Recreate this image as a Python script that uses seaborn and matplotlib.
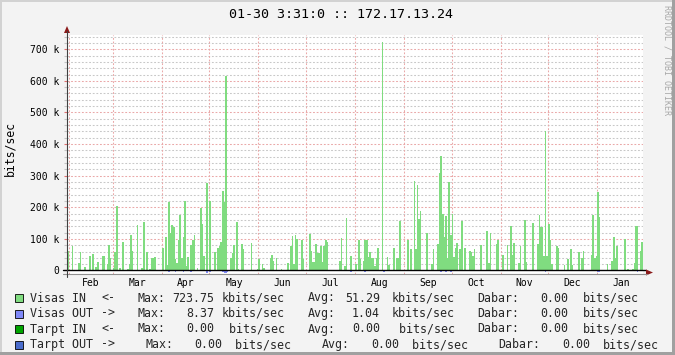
import numpy as np
import pandas as pd
import matplotlib
matplotlib.use("Agg")
import matplotlib.pyplot as plt
import seaborn as sns
from matplotlib.patches import Rectangle, Polygon
from matplotlib.lines import Line2D

# ---------------- data ----------------
start_date = "2007-01-31"
title = "01-30 3:31:0 :: 172.17.13.24"

in_days = [0, 3, 7, 8, 11, 14, 16, 18, 19, 20, 22, 23, 25, 26, 27, 29, 30, 31, 33, 35, 38, 39, 40, 41, 44, 47, 48, 50,
           52, 53, 54, 55, 60, 62, 63, 64, 65, 66, 67, 68, 69, 70, 71, 72, 73, 74, 75, 76, 78, 79, 80, 82, 84, 85, 86,
           88, 90, 93, 95, 96, 97, 98, 99, 100, 103, 104, 105, 107, 108, 110, 111, 116, 120, 121, 123, 124, 128, 129,
           130, 132, 135, 139, 141, 142, 143, 144, 145, 148, 149, 153, 154, 155, 156, 157, 158, 159, 160, 161, 162,
           163, 164, 172, 173, 175, 176, 179, 181, 182, 184, 185, 187, 188, 189, 190, 191, 192, 193, 194, 195, 196,
           199, 202, 203, 206, 208, 209, 210, 215, 217, 219, 220, 221, 222, 223, 224, 227, 230, 231, 234, 235, 236,
           237, 238, 239, 240, 241, 242, 243, 244, 245, 246, 248, 249, 250, 251, 254, 255, 256, 257, 261, 265, 266,
           267, 271, 272, 275, 278, 280, 281, 282, 285, 286, 289, 290, 294, 297, 298, 299, 300, 301, 302, 303, 304,
           305, 306, 309, 310, 314, 316, 318, 319, 323, 325, 326, 331, 332, 333, 334, 335, 336, 341, 344, 345, 346,
           347, 350, 352, 354, 357, 358, 359, 360, 362, 363]
in_kbps = [63, 77, 25, 57, 12, 45, 52, 10, 28, 3, 47, 45, 22, 82, 39, 7, 58, 205, 7, 91, 5, 22, 111, 63, 145, 7, 155, 60,
           5, 41, 41, 44, 70, 107, 18, 218, 120, 145, 137, 35, 25, 98, 176, 39, 107, 220, 14, 44, 82, 98, 113, 8, 198,
           148, 47, 277, 220, 60, 72, 79, 91, 252, 218, 614, 40, 56, 81, 155, 5, 84, 68, 88, 5, 35, 21, 9, 41, 50,
           31, 38, 4, 25, 78, 110, 20, 113, 101, 98, 35, 117, 63, 28, 28, 85, 54, 54, 79, 28, 77,
           96, 91, 31, 104, 13, 167, 47, 3, 20, 95, 35, 31, 98, 98, 44, 57, 41, 41, 15, 41, 72,
           724, 44, 18, 72, 39, 39, 158, 98, 68, 284, 68, 271, 164, 187, 3, 118, 22, 68, 85, 309, 362,
           180, 107, 173, 38, 280, 113, 178, 44, 72, 88, 68, 158, 3, 72, 62, 58, 47, 68, 82, 126, 25,
           120, 84, 95, 50, 82, 142, 50, 88, 25, 78, 161, 28, 151, 85, 176, 139, 139, 47, 441, 47, 148,
           95, 22, 77, 72, 16, 35, 68, 16, 60, 41, 63, 50, 176, 39, 47, 249, 170, 22, 31, 107, 40,
           77, 3, 101, 4, 5, 25, 142, 142, 63, 91]

out_days = [0, 8, 29, 43, 48, 64, 68, 73, 78, 88, 90, 98, 99, 100, 101, 107, 120, 145, 177, 179, 188, 200, 222, 223,
            236, 239, 242, 279, 282, 286, 302, 320, 335, 336, 360]
out_kbps = [3, 3, 3, 3, 3, 4, 4, 4, 4, 7, 5, 5, 8.4, 8, 5, 3, 3, 3, 3, 4, 4, 4, 3, 3,
            4, 4, 4, 3, 3, 3, 4, 3, 5, 5, 4]

month_names = ["Feb", "Mar", "Apr", "May", "Jun", "Jul", "Aug", "Sep", "Oct", "Nov", "Dec", "Jan"]
ytick_values = [0, 100, 200, 300, 400, 500, 600, 700]
ytick_labels = ["0", "100 k", "200 k", "300 k", "400 k", "500 k", "600 k", "700 k"]

legend_names = ["Visas IN", "Visas OUT", "Tarpt IN", "Tarpt OUT"]
legend_arrows = ["<-", "->", "<-", "->"]
legend_colors = ["#80dc80", "#7f88f8", "#00a400", "#4a6ccc"]
legend_max = ["723.75", "8.37", "0.00", "0.00"]
legend_max_unit = ["kbits/sec", "kbits/sec", "bits/sec", "bits/sec"]
legend_avg = ["51.29", "1.04", "0.00", "0.00"]
legend_avg_unit = ["kbits/sec", "kbits/sec", "bits/sec", "bits/sec"]
legend_cur = ["0.00", "0.00", "0.00", "0.00"]

# ---------------- styling ----------------
sns.set_theme(style="white")
plt.rcParams['font.family'] = ['DejaVu Sans Mono']
plt.rcParams['lines.scale_dashes'] = False

W, H = 675, 355
fig = plt.figure(figsize=(W / 100, H / 100), dpi=100, facecolor="#f3f3f3")

def fx(x):
    return x / W

def fy(y):
    return 1 - y / H

# plot area (pixels): x 67..643, y 35..273.5
L, R, T, B = 67, 643, 35, 273.5
ax = fig.add_axes([fx(L), fy(B), (R - L) / W, (B - T) / H])
ax.set_facecolor("white")

start = pd.Timestamp(start_date)
df_in = pd.DataFrame({"day": np.array(in_days) + 0.5, "kbps": in_kbps})
df_out = pd.DataFrame({"day": np.array(out_days) + 0.5, "kbps": -np.array(out_kbps)})

sns.barplot(data=df_in, x="day", y="kbps", native_scale=True, width=1.0, color="#80dc80",
            saturation=1, errorbar=None, linewidth=0, edgecolor="#80dc80", ax=ax, zorder=3)
sns.barplot(data=df_out, x="day", y="kbps", native_scale=True, width=1.0, color="#7f88f8",
            saturation=1, errorbar=None, linewidth=0, edgecolor="#7f88f8", ax=ax, zorder=3)

ax.set_xlim(0, 364)
ax.set_ylim(-9.5, 745)
ax.set_xlabel("")
ax.set_ylabel("")
for s in ax.spines.values():
    s.set_visible(False)

# horizontal grid
ax.set_yticks(ytick_values)
ax.set_yticklabels(ytick_labels)
ax.set_yticks(np.arange(20, 745, 20), minor=True)
ax.grid(False)
for v in np.arange(20, 745, 20):
    if v % 100 != 0:
        ax.axhline(v, color="#c8c8c8", lw=0.75, ls=(0, (1.3, 1.3)), zorder=1)
for v in ytick_values[1:]:
    ax.axhline(v, color="#eaa8a8", lw=0.75, ls=(0, (1.3, 1.3)), zorder=1)

# month boundaries / labels
month_starts = pd.date_range("2007-02-01", periods=12, freq="MS")
month_offsets = [(d - start).days for d in month_starts]
month_centers = [(d - start).days + d.days_in_month / 2 for d in month_starts]
for m in month_offsets:
    ax.axvline(m, color="#eaa8a8", lw=0.75, ls=(0, (1.3, 1.3)), zorder=1)
ax.set_xticks(month_offsets)
ax.set_xticklabels([""] * len(month_offsets))
ax.set_xticks(month_centers, minor=True)
ax.set_xticklabels(month_names, minor=True)
ax.tick_params(axis="x", which="major", length=2.2, width=0.8, color="#e07070", direction="out")
ax.tick_params(axis="x", which="minor", length=0, pad=3.6, labelsize=7, labelcolor="black")
ax.tick_params(axis="y", which="major", length=2.5, width=0.8, color="#e07070", pad=2.8,
               labelsize=7, labelcolor="black", left=True)
ax.tick_params(axis="y", which="minor", length=2.5, width=0.8, color="#c4c4c4", left=True)

# zero line
ax.plot([-0.007, 1.006], [0, 0], transform=ax.get_yaxis_transform(), color="black",
        lw=1.0, clip_on=False, zorder=5)

# axes lines & arrows (decorations in pixel coordinates)
fig.add_artist(Line2D([fx(63), fx(647)], [fy(273.5), fy(273.5)], color="#909090", lw=0.8))
fig.add_artist(Line2D([fx(67), fx(67)], [fy(277), fy(31)], color="#404040", lw=0.8))
fig.add_artist(Polygon([[fx(64), fy(33)], [fx(70), fy(33)], [fx(67), fy(26)]], closed=True,
                       color="#8b1a1a", lw=0))
fig.add_artist(Polygon([[fx(646), fy(269.5)], [fx(646), fy(275.5)], [fx(653), fy(272.5)]], closed=True,
                       color="#8b1a1a", lw=0))

# border shading
fig.add_artist(Rectangle((0, fy(2)), 1, fy(0) - fy(2), transform=fig.transFigure, color="#d2d2d2", lw=0))
fig.add_artist(Rectangle((0, 0), fx(2), 1, transform=fig.transFigure, color="#d2d2d2", lw=0))
fig.add_artist(Rectangle((0, 0), 1, fy(352) - fy(355), transform=fig.transFigure, color="#a0a0a0", lw=0))
fig.add_artist(Rectangle((fx(672), 0), fx(3), 1, transform=fig.transFigure, color="#a0a0a0", lw=0))

# texts
fig.text(fx(341), fy(14), title, ha="center", va="center", fontsize=9.6, color="black")
fig.text(fx(10), fy(148), "bits/sec", rotation=90, ha="center", va="center", fontsize=8.3, color="black")
fig.text(fx(667), fy(60), "RRDTOOL / TOBI OETIKER", rotation=270, ha="center", va="center",
         fontsize=6, color="#a8a8a8")

# legend
row_y = [298, 313.5, 329, 344.5]
fs = 8.4
for i in range(4):
    y = fy(row_y[i])
    sq = 8
    fig.add_artist(Rectangle((fx(15), fy(row_y[i] + sq / 2)), fx(sq), fy(0) - fy(sq),
                             transform=fig.transFigure, facecolor=legend_colors[i],
                             edgecolor="black", lw=0.6))
    fig.text(fx(30), y, legend_names[i], ha="left", va="center", fontsize=fs)
    fig.text(fx(101), y, legend_arrows[i], ha="left", va="center", fontsize=fs)
    if i < 3:
        xs = dict(maxl=138, maxv=214.5, maxu=222, avgl=308, avgv=380, avgu=392,
                  dabl=477, cur=568.5, curu=583)
    else:
        xs = dict(maxl=145, maxv=222, maxu=228, avgl=322, avgv=399, avgu=405,
                  dabl=498, cur=590, curu=603)
    mu = legend_max_unit[i] if legend_max_unit[i].startswith("k") else " " + legend_max_unit[i]
    au = legend_avg_unit[i] if legend_avg_unit[i].startswith("k") else " " + legend_avg_unit[i]
    if i == 3:
        mu, au = " " + legend_max_unit[i], " " + legend_avg_unit[i]
    fig.text(fx(xs["maxl"]), y, "Max:", ha="left", va="center", fontsize=fs)
    fig.text(fx(xs["maxv"]), y, legend_max[i], ha="right", va="center", fontsize=fs)
    fig.text(fx(xs["maxu"]), y, mu, ha="left", va="center", fontsize=fs)
    fig.text(fx(xs["avgl"]), y, "Avg:", ha="left", va="center", fontsize=fs)
    fig.text(fx(xs["avgv"]), y, legend_avg[i], ha="right", va="center", fontsize=fs)
    fig.text(fx(xs["avgu"]), y, au, ha="left", va="center", fontsize=fs)
    fig.text(fx(xs["dabl"]), y, "Dabar:", ha="left", va="center", fontsize=fs)
    fig.text(fx(xs["cur"]), y, legend_cur[i], ha="right", va="center", fontsize=fs)
    fig.text(fx(xs["curu"]), y, "bits/sec", ha="left", va="center", fontsize=fs)

fig.savefig("out.png", dpi=100, facecolor=fig.get_facecolor())
